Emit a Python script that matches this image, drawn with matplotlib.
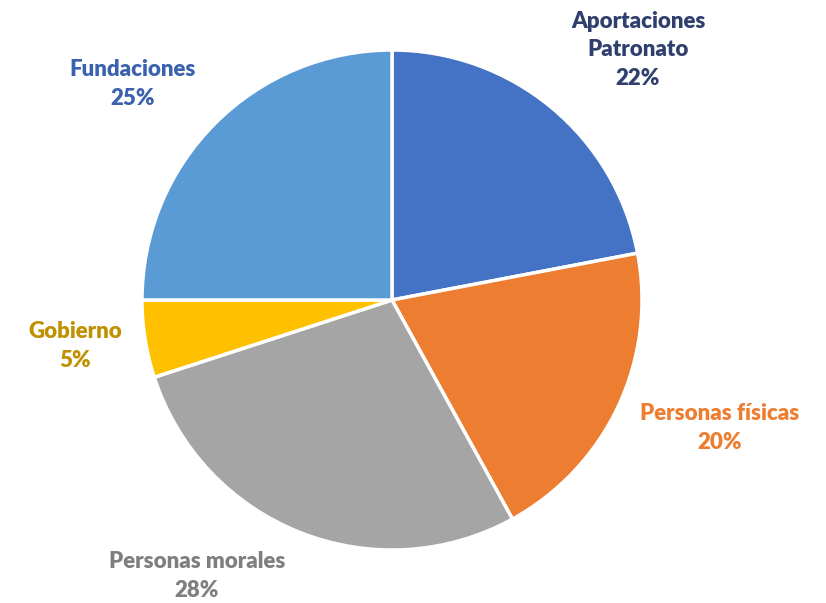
import matplotlib
matplotlib.use('Agg')
import matplotlib.pyplot as plt

labels = ['Aportaciones\nPatronato', 'Personas físicas', 'Personas morales', 'Gobierno', 'Fundaciones']
values = [22, 20, 28, 5, 25]
colors = ['#4472C4', '#ED7D31', '#A5A5A5', '#FFC000', '#5B9BD5']
text_colors = ['#2F3F6E', '#ED7D31', '#7F7F7F', '#BF9000', '#3A62AE']
# label centres in pixel coords (x, y from top)
label_pos = [(638, 50), (720, 428), (197, 576), (75, 346), (133, 84)]

W, H = 826, 603
fig = plt.figure(figsize=(W / 100, H / 100), dpi=100)
ax = fig.add_axes([0, 0, 1, 1])
ax.set_xlim(0, W)
ax.set_ylim(0, H)
ax.set_aspect('equal')
ax.axis('off')

ax.pie(values, colors=colors, startangle=90, counterclock=False,
       center=(392, H - 300), radius=250,
       wedgeprops=dict(edgecolor='white', linewidth=2.5))

for lab, v, c, (x, y) in zip(labels, values, text_colors, label_pos):
    ax.text(x, H - y, f'{lab}\n{v}%', ha='center', va='center', color=c,
            fontsize=16, fontweight='heavy', family=['Lato', 'DejaVu Sans'],
            linespacing=1.45)

ax.set_xlim(0, W)
ax.set_ylim(0, H)
fig.savefig('out.png', dpi=100)
